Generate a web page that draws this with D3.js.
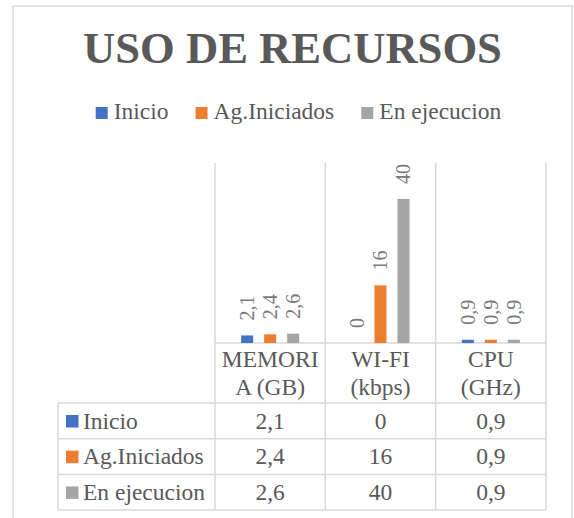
<!DOCTYPE html>
<html>
<head>
<meta charset="utf-8">
<script src="https://cdn.jsdelivr.net/npm/d3@7"></script>
</head>
<body style="margin:0; padding:0; background:#fff">
<div id="chart"></div>
<script>
// data
var categories = ["MEMORIA (GB)", "WI-FI (kbps)", "CPU (GHz)"];
var categoryLines = [["MEMORI", "A (GB)"], ["WI-FI", "(kbps)"], ["CPU", "(GHz)"]];
var seriesNames = ["Inicio", "Ag.Iniciados", "En ejecucion"];
var inicio = [2.1, 0, 0.9];
var agIniciados = [2.4, 16, 0.9];
var enEjecucion = [2.6, 40, 0.9];
var seriesColors = ["#4472C4", "#ED7D31", "#A5A5A5"];
var yMax = 50;

var seriesValues = [inicio, agIniciados, enEjecucion];

var width = 574, height = 518;
var gridColor = "#D9D9D9";
var textColor = "#595959";
var labelColor = "#7a7a7a";
var fontFam = "Liberation Serif";
var plotTop = 163, plotBottom = 343;
var tableLeft = 58, rowH = 35.7;
var tableTop = 403;

var locale = d3.formatLocale({decimal: ",", thousands: ".", grouping: [3], currency: ["", ""]});
var fmt = function(v){ return locale.format("~g")(v); };

var svg = d3.select("#chart").append("svg")
  .attr("width", width)
  .attr("height", height)
  .attr("font-family", fontFam);

function txt(sel){
  return sel.append("text").attr("font-family", fontFam).attr("fill", textColor);
}

// chart frame
svg.append("rect")
  .attr("x", 13).attr("y", 6)
  .attr("width", 559).attr("height", 540)
  .attr("fill", "#fff")
  .attr("stroke", gridColor)
  .attr("stroke-width", 1.5);

// title
txt(svg)
  .attr("x", 292.5).attr("y", 63)
  .attr("text-anchor", "middle")
  .attr("font-size", 44.6)
  .attr("font-weight", "bold")
  .text("USO DE RECURSOS");

// legend
var legend = svg.append("g");
var lx = 0;
seriesNames.forEach(function(name, i){
  var g = legend.append("g").attr("transform", "translate(" + lx + ",0)");
  g.append("rect")
    .attr("x", 0).attr("y", 107)
    .attr("width", 12).attr("height", 12)
    .attr("fill", seriesColors[i]);
  var t = txt(g)
    .attr("x", 18).attr("y", 119)
    .attr("font-size", 23.5)
    .text(name);
  lx += 18 + t.node().getComputedTextLength() + 27;
});
var legendW = lx - 27;
legend.attr("transform", "translate(" + (298.5 - legendW / 2) + ",0)");

// scales
var x = d3.scaleBand()
  .domain(categories)
  .range([215, 546])
  .padding(0);

var xs = d3.scaleBand()
  .domain(seriesNames)
  .range([-29, 29])
  .paddingInner(11 / 23)
  .paddingOuter(0);

var y = d3.scaleLinear()
  .domain([0, yMax])
  .range([plotBottom, plotTop]);

// vertical grid lines (plot + table)
var vlines = [215].concat(categories.map(function(c){ return x(c) + x.bandwidth(); }));
svg.selectAll(".vgrid").data(vlines).enter().append("line")
  .attr("x1", function(d){ return d; })
  .attr("x2", function(d){ return d; })
  .attr("y1", plotTop)
  .attr("y2", tableTop + rowH * 3)
  .attr("stroke", gridColor)
  .attr("stroke-width", 1.5);

// axis line
svg.append("line")
  .attr("x1", 215).attr("x2", 546)
  .attr("y1", plotBottom).attr("y2", plotBottom)
  .attr("stroke", gridColor)
  .attr("stroke-width", 1.5);

// table horizontal lines
d3.range(4).forEach(function(i){
  svg.append("line")
    .attr("x1", tableLeft).attr("x2", 546)
    .attr("y1", tableTop + rowH * i).attr("y2", tableTop + rowH * i)
    .attr("stroke", gridColor)
    .attr("stroke-width", 1.5);
});
svg.append("line")
  .attr("x1", tableLeft).attr("x2", tableLeft)
  .attr("y1", tableTop).attr("y2", tableTop + rowH * 3)
  .attr("stroke", gridColor)
  .attr("stroke-width", 1.5);

// bars + labels
seriesNames.forEach(function(name, si){
  var data = seriesValues[si].map(function(v, ci){ return {cat: categories[ci], v: v}; });
  var cx = function(d){ return x(d.cat) + x.bandwidth() / 2 + xs(name); };

  svg.selectAll(".bar-" + si).data(data).enter().append("rect")
    .attr("x", cx)
    .attr("y", function(d){ return y(d.v); })
    .attr("width", xs.bandwidth())
    .attr("height", function(d){ return plotBottom - y(d.v); })
    .attr("fill", seriesColors[si]);

  data.forEach(function(d){
    txt(svg)
      .attr("transform", "translate(" + (cx(d) + xs.bandwidth() / 2) + "," + (y(d.v) - 15) + ") rotate(-90)")
      .attr("dy", "0.34em")
      .attr("font-size", 20)
      .attr("fill", labelColor)
      .text(fmt(d.v));
  });
});

// category header in table
categories.forEach(function(c, ci){
  var t = txt(svg)
    .attr("text-anchor", "middle")
    .attr("font-size", 23.5);
  categoryLines[ci].forEach(function(line, li){
    t.append("tspan")
      .attr("x", x(c) + x.bandwidth() / 2)
      .attr("y", 367 + li * 27.5)
      .text(line);
  });
});

// table rows
seriesNames.forEach(function(name, si){
  var top = tableTop + rowH * si;
  svg.append("rect")
    .attr("x", 66).attr("y", top + 12)
    .attr("width", 12.5).attr("height", 12.5)
    .attr("fill", seriesColors[si]);
  txt(svg)
    .attr("x", 83).attr("y", top + 25.5)
    .attr("font-size", 23.5)
    .text(name);
  seriesValues[si].forEach(function(v, ci){
    txt(svg)
      .attr("x", x(categories[ci]) + x.bandwidth() / 2)
      .attr("y", top + 25.5)
      .attr("text-anchor", "middle")
      .attr("font-size", 23.5)
      .text(fmt(v));
  });
});
</script>
</body>
</html>
